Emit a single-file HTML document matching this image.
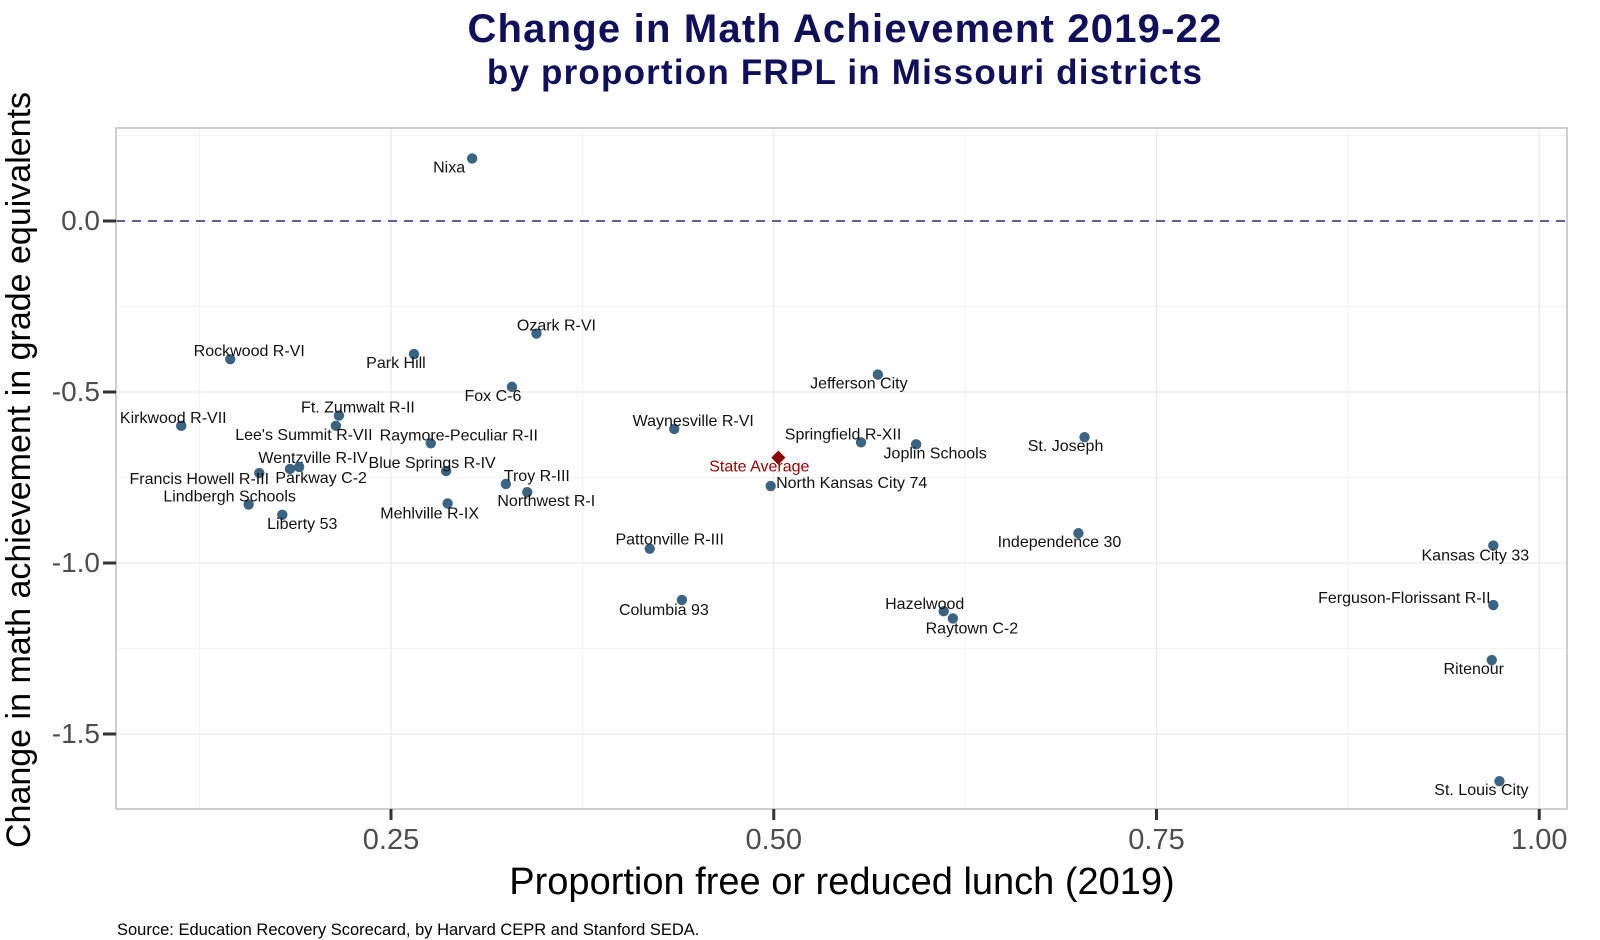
<!DOCTYPE html>
<html><head><meta charset="utf-8"><style>
html,body{margin:0;padding:0;background:#fff;}
svg{display:block;font-family:"Liberation Sans",Arial,sans-serif;}
</style></head><body>
<svg id="chart" width="1600" height="940" viewBox="0 0 1600 940">
<text x="845" y="42" text-anchor="middle" font-size="40" font-weight="bold" letter-spacing="1.2" fill="#0f0f5c">Change in Math Achievement 2019-22</text>
<text x="845" y="84" text-anchor="middle" font-size="35" font-weight="bold" letter-spacing="1.2" fill="#0f0f5c">by proportion FRPL in Missouri districts</text>
<g id="grid"></g>
<g id="marks"></g>
<rect x="116" y="128" width="1451" height="681" fill="none" stroke="#b3b3b3" stroke-width="1.3"/>
<g id="axes"></g>
<text x="842" y="894" text-anchor="middle" font-size="38" fill="#000">Proportion free or reduced lunch (2019)</text>
<text transform="translate(30,470) rotate(-90)" text-anchor="middle" font-size="34" fill="#000">Change in math achievement in grade equivalents</text>
<text x="117" y="935" font-size="16.5" fill="#000">Source: Education Recovery Scorecard, by Harvard CEPR and Stanford SEDA.</text>
</svg>
<script>
const names=["Nixa","Ozark R-VI","Rockwood R-VI","Park Hill","Fox C-6","Jefferson City","Kirkwood R-VII","Ft. Zumwalt R-II","Lee's Summit R-VII","Raymore-Peculiar R-II","Waynesville R-VI","Springfield R-XII","Joplin Schools","St. Joseph","State Average","Wentzville R-IV","Parkway C-2","Francis Howell R-III","Blue Springs R-IV","Troy R-III","Northwest R-I","North Kansas City 74","Lindbergh Schools","Liberty 53","Mehlville R-IX","Independence 30","Pattonville R-III","Kansas City 33","Columbia 93","Hazelwood","Raytown C-2","Ferguson-Florissant R-II","Ritenour","St. Louis City"];
const frpl=[0.303,0.345,0.145,0.265,0.329,0.568,0.113,0.216,0.214,0.276,0.435,0.557,0.593,0.703,0.503,0.184,0.190,0.164,0.286,0.325,0.339,0.498,0.157,0.179,0.287,0.699,0.419,0.970,0.440,0.611,0.617,0.970,0.969,0.974];
const change=[0.183,-0.329,-0.404,-0.389,-0.485,-0.449,-0.599,-0.569,-0.599,-0.650,-0.608,-0.647,-0.653,-0.632,-0.692,-0.725,-0.719,-0.737,-0.731,-0.769,-0.793,-0.775,-0.829,-0.859,-0.826,-0.913,-0.958,-0.949,-1.108,-1.141,-1.162,-1.123,-1.284,-1.638];
const xTicks=[0.25,0.5,0.75,1.0];
const xTickLabels=["0.25","0.50","0.75","1.00"];
const yTicks=[0,-0.5,-1,-1.5];
const yTickLabels=["0.0","-0.5","-1.0","-1.5"];
const labelDx=[-23,20,19,-18,-19,-19,-8,19,-32,28,19,-18,19,-19,-19,23,22,-60,-14,31,19,81,-19,20,-18,-19,20,-18,-18,-19,19,-89,-18,-18];
const labelDy=[9,-8,-8,9,9,9,-8,-8,9,-8,-8,-8,9,9,9,-11,11,6,-8,-8,9,-3,-8,9,10,9,-9,10,10,-7,10,-7,9,9];
const X=v=>391+(v-0.25)*1531;
const Y=v=>221-v*342;
const NS="http://www.w3.org/2000/svg";
function mk(tag,attrs,parent){const e=document.createElementNS(NS,tag);for(const k in attrs)e.setAttribute(k,attrs[k]);parent.appendChild(e);return e;}
const grid=document.getElementById('grid'),marks=document.getElementById('marks'),axes=document.getElementById('axes');
mk('rect',{x:116,y:128,width:1451,height:681,fill:'#fff'},grid);
[0.125,0.375,0.625,0.875].forEach(v=>{const l=mk('line',{x1:X(v),x2:X(v),y1:128,y2:809,stroke:'#f3f3f3','stroke-width':1},grid);

});
[0.25,-0.25,-0.75,-1.25].forEach(v=>{const l=mk('line',{x1:116,x2:1567,y1:Y(v),y2:Y(v),stroke:'#f3f3f3','stroke-width':1},grid);

});
xTicks.forEach((v,i)=>{const l=mk('line',{x1:X(v),x2:X(v),y1:128,y2:809,stroke:'#ebebeb','stroke-width':1.3},grid);


const t=mk('line',{x1:X(v),x2:X(v),y1:809,y2:820,stroke:'#333','stroke-width':3},axes);


const tx=mk('text',{x:X(v),y:849,'text-anchor':'middle','font-size':29,fill:'#4d4d4d'},axes);tx.textContent=xTickLabels[i];

});
yTicks.forEach((v,i)=>{const l=mk('line',{x1:116,x2:1567,y1:Y(v),y2:Y(v),stroke:'#ebebeb','stroke-width':1.3},grid);


const t=mk('line',{x1:103,x2:116,y1:Y(v),y2:Y(v),stroke:'#333','stroke-width':3},axes);


const tx=mk('text',{x:100,y:Y(v)+9,'text-anchor':'end','font-size':28,fill:'#4d4d4d'},axes);tx.textContent=yTickLabels[i];

});
const ref=mk('line',{x1:116,x2:1567,y1:Y(0),y2:Y(0),stroke:'#2a2a7a','stroke-width':1.5,'stroke-dasharray':'9,7'},marks);


names.forEach((n,i)=>{const cx=X(frpl[i]),cy=Y(change[i]);const avg=n==="State Average";
let p;
if(avg){p=mk('rect',{x:cx-5,y:cy-5,width:10,height:10,fill:'#8b0000',transform:`rotate(45 ${cx} ${cy})`},marks);}
else{p=mk('circle',{cx:cx,cy:cy,r:5.2,fill:'#3a6482'},marks);}


const t=mk('text',{x:cx+labelDx[i],y:cy+labelDy[i]+5,'text-anchor':'middle','font-size':16,fill:avg?'#a00000':'#111'},marks);t.textContent=n;

});
</script>
</body></html>
